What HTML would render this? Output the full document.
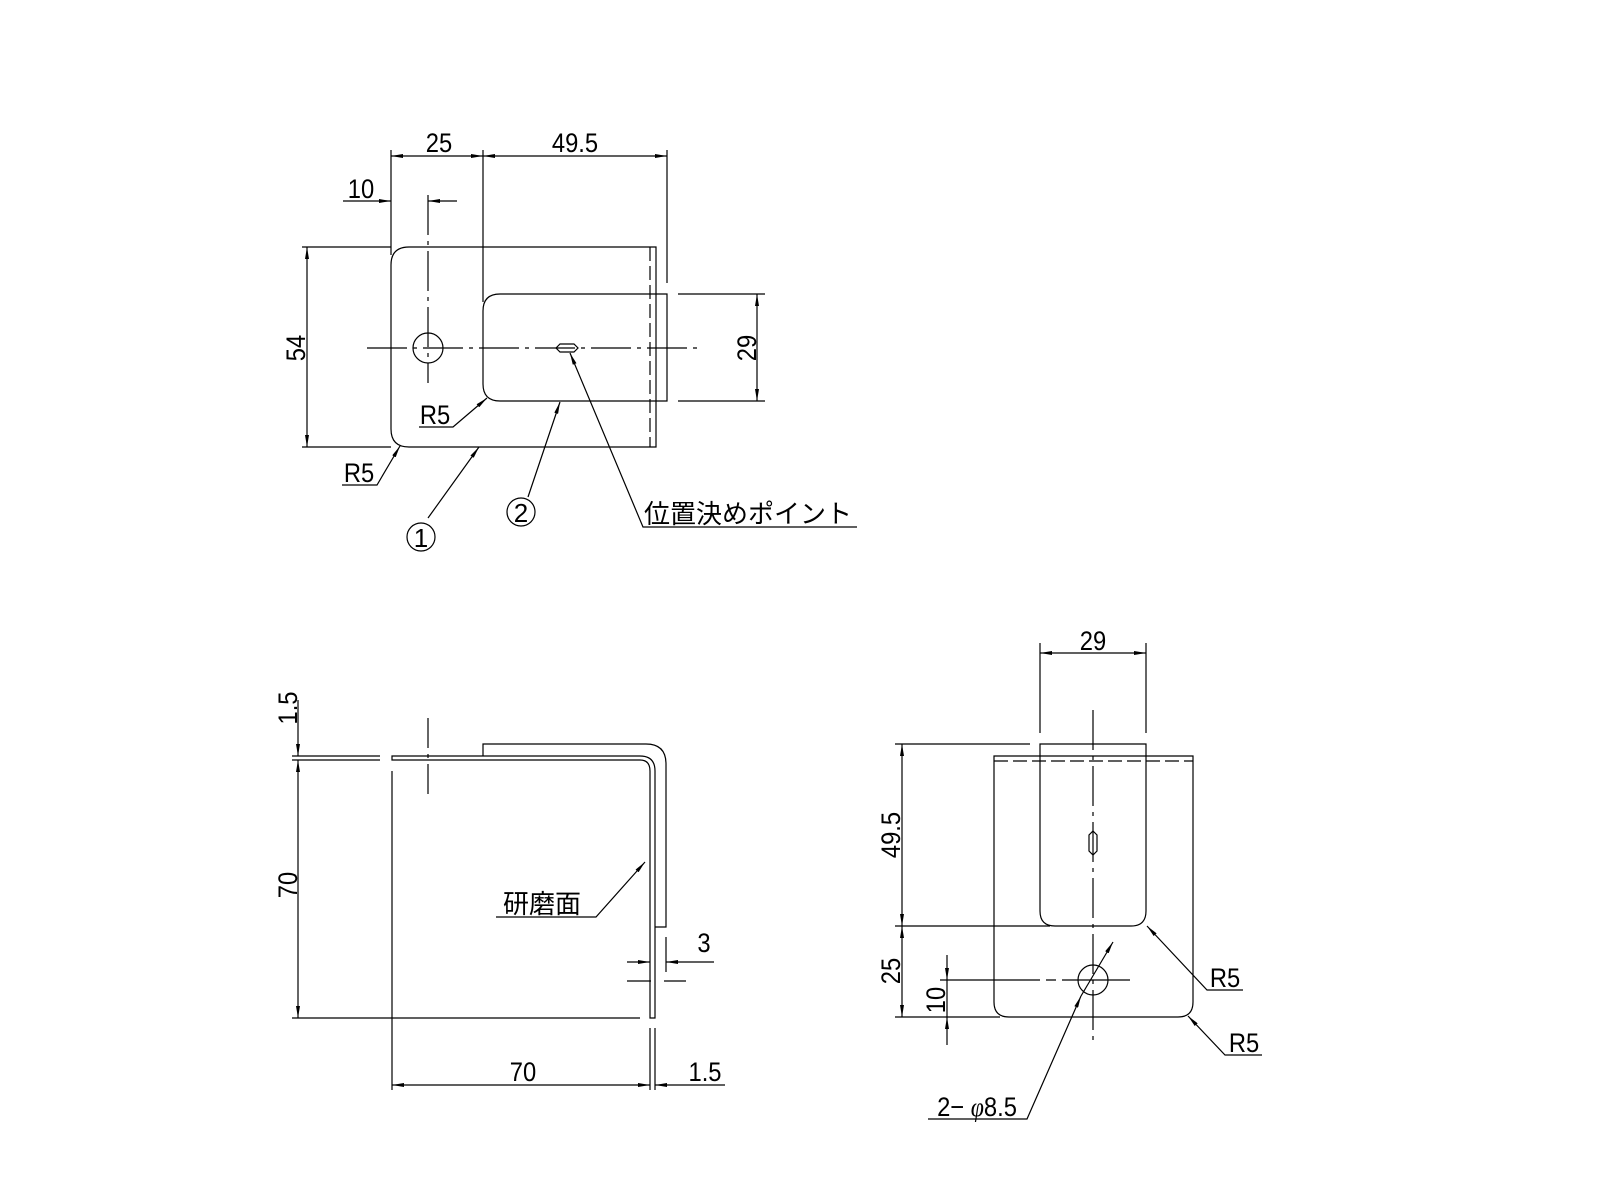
<!DOCTYPE html>
<html><head><meta charset="utf-8"><style>html,body{margin:0;padding:0;background:#fff}svg{display:block}</style></head><body>
<svg width="1600" height="1200" viewBox="0 0 1600 1200" xmlns="http://www.w3.org/2000/svg" font-family="'Liberation Sans','Noto Sans CJK JP',sans-serif" font-size="27">
<defs>
<marker id="a" viewBox="0 0 12 4" refX="12" refY="2" markerWidth="12" markerHeight="4" markerUnits="userSpaceOnUse" orient="auto-start-reverse"><path d="M0,0L12,2L0,4z" fill="#000"/></marker>
</defs>
<g fill="none" stroke="#000" stroke-width="1.2">
<!-- TOP VIEW -->
<line x1="391" y1="150" x2="391" y2="255"/>
<line x1="483" y1="150" x2="483" y2="302"/>
<line x1="667" y1="150" x2="667" y2="283"/>
<line x1="391" y1="156" x2="483" y2="156" marker-start="url(#a)" marker-end="url(#a)"/>
<line x1="483" y1="156" x2="667" y2="156" marker-start="url(#a)" marker-end="url(#a)"/>
<line x1="343" y1="201" x2="391" y2="201" marker-end="url(#a)"/>
<line x1="457" y1="201" x2="428" y2="201" marker-end="url(#a)"/>
<line x1="428" y1="195" x2="428" y2="383" stroke-dasharray="40,6,4,6"/>
<path d="M409,247H656V447H409Q391,447 391,429V265Q391,247 409,247Z"/>
<line x1="650" y1="247" x2="650" y2="447" stroke-dasharray="14,5"/>
<path d="M500,294H667V401H500Q483,401 483,384V311Q483,294 500,294Z"/>
<line x1="302" y1="247" x2="391" y2="247"/>
<line x1="302" y1="447" x2="391" y2="447"/>
<line x1="307" y1="247" x2="307" y2="447" marker-start="url(#a)" marker-end="url(#a)"/>
<line x1="678" y1="294" x2="765" y2="294"/>
<line x1="678" y1="401" x2="765" y2="401"/>
<line x1="757" y1="294" x2="757" y2="401" marker-start="url(#a)" marker-end="url(#a)"/>
<line x1="367" y1="348" x2="702" y2="348" stroke-dasharray="40,6,4,6"/>
<circle cx="428" cy="348" r="15"/>
<path d="M556,348L560,344H574L578,348L574,352H560Z"/>
<polyline points="419,427 453,427 487,398" marker-end="url(#a)"/>
<polyline points="342,485 377,485 400,446" marker-end="url(#a)"/>
<line x1="428" y1="518" x2="479" y2="447" marker-end="url(#a)"/>
<line x1="528" y1="497" x2="560" y2="402" marker-end="url(#a)"/>
<polyline points="857,527 643,527 570,353" marker-end="url(#a)"/>
<circle cx="421" cy="537" r="14"/>
<circle cx="521" cy="512" r="14"/>
<!-- SIDE VIEW -->
<path d="M292,756H380M292,760H380"/>
<path d="M392,756H640Q655,756 655,771V1018H650V771Q650,760 640,760H392Z"/>
<path d="M483,756V744H646Q666,744 666,764V927H655"/>
<line x1="392" y1="771" x2="392" y2="1090"/>
<line x1="428" y1="718" x2="428" y2="795" stroke-dasharray="30,6,4,6"/>
<line x1="298" y1="700" x2="298" y2="756" marker-end="url(#a)"/>
<line x1="298" y1="760" x2="298" y2="1018" marker-start="url(#a)" marker-end="url(#a)"/>
<line x1="292" y1="1018" x2="640" y2="1018"/>
<polyline points="496,917 596,917 645,862" marker-end="url(#a)"/>
<line x1="666" y1="937" x2="666" y2="972"/>
<line x1="627" y1="962" x2="650" y2="962" marker-end="url(#a)"/>
<line x1="714" y1="962" x2="666" y2="962" marker-end="url(#a)"/>
<path d="M627,981H651M664,981H686"/>
<line x1="650" y1="1028" x2="650" y2="1090"/>
<line x1="655" y1="1028" x2="655" y2="1090"/>
<line x1="392" y1="1085" x2="650" y2="1085" marker-start="url(#a)" marker-end="url(#a)"/>
<line x1="725" y1="1085" x2="655" y2="1085" marker-end="url(#a)"/>
<!-- RIGHT VIEW -->
<line x1="1040" y1="643" x2="1040" y2="733"/>
<line x1="1146" y1="643" x2="1146" y2="733"/>
<line x1="1040" y1="653" x2="1146" y2="653" marker-start="url(#a)" marker-end="url(#a)"/>
<path d="M994,756H1193V1002Q1193,1017 1178,1017H1009Q994,1017 994,1002Z"/>
<path d="M1040,756V744H1146V911Q1146,926 1131,926H1055Q1040,926 1040,911V756"/>
<line x1="994" y1="761" x2="1193" y2="761" stroke-dasharray="14,5"/>
<line x1="1093" y1="710" x2="1093" y2="1045" stroke-dasharray="40,6,4,6"/>
<path d="M1093,831L1097,835V851L1093,855L1089,851V835Z"/>
<circle cx="1093" cy="980" r="15"/>
<line x1="940" y1="980" x2="1130" y2="980" stroke-dasharray="100,6,10,6"/>
<line x1="895" y1="744" x2="1030" y2="744"/>
<line x1="895" y1="926" x2="1050" y2="926"/>
<line x1="895" y1="1017" x2="1000" y2="1017"/>
<line x1="902" y1="744" x2="902" y2="926" marker-start="url(#a)" marker-end="url(#a)"/>
<line x1="902" y1="926" x2="902" y2="1017" marker-start="url(#a)" marker-end="url(#a)"/>
<line x1="947" y1="955" x2="947" y2="980" marker-end="url(#a)"/>
<line x1="947" y1="1045" x2="947" y2="1017" marker-end="url(#a)"/>
<line x1="947" y1="980" x2="947" y2="1017"/>
<polyline points="1243,990 1207,990 1147,926" marker-end="url(#a)"/>
<polyline points="1262,1055 1225,1055 1188,1016" marker-end="url(#a)"/>
<polyline points="928,1119 1027,1119 1081,996" marker-end="url(#a)"/>
<line x1="1081" y1="996" x2="1113" y2="942" marker-end="url(#a)"/>
</g>
<g fill="#000" stroke="none">
<text transform="translate(439,152) scale(0.88,1)" text-anchor="middle">25</text>
<text transform="translate(575,152) scale(0.88,1)" text-anchor="middle">49.5</text>
<text transform="translate(361,198) scale(0.88,1)" text-anchor="middle">10</text>
<text transform="translate(305,348) rotate(-90) scale(0.88,1)" text-anchor="middle">54</text>
<text transform="translate(756,348) rotate(-90) scale(0.88,1)" text-anchor="middle">29</text>
<text transform="translate(435,424) scale(0.88,1)" text-anchor="middle">R5</text>
<text transform="translate(359,482) scale(0.88,1)" text-anchor="middle">R5</text>
<text x="421" y="547" text-anchor="middle" font-size="26">1</text>
<text x="521" y="522" text-anchor="middle" font-size="26">2</text>
<text x="748" y="523" text-anchor="middle" font-size="26">位置決めポイント</text>
<text transform="translate(297,708) rotate(-90) scale(0.88,1)" text-anchor="middle">1.5</text>
<text transform="translate(297,885) rotate(-90) scale(0.88,1)" text-anchor="middle">70</text>
<text x="542" y="913" text-anchor="middle" font-size="26">研磨面</text>
<text transform="translate(704,952) scale(0.88,1)" text-anchor="middle">3</text>
<text transform="translate(523,1081) scale(0.88,1)" text-anchor="middle">70</text>
<text transform="translate(705,1081) scale(0.88,1)" text-anchor="middle">1.5</text>
<text transform="translate(1093,650) scale(0.88,1)" text-anchor="middle">29</text>
<text transform="translate(900,835) rotate(-90) scale(0.88,1)" text-anchor="middle">49.5</text>
<text transform="translate(900,971) rotate(-90) scale(0.88,1)" text-anchor="middle">25</text>
<text transform="translate(945,1000) rotate(-90) scale(0.88,1)" text-anchor="middle">10</text>
<text transform="translate(1225,987) scale(0.88,1)" text-anchor="middle">R5</text>
<text transform="translate(1244,1052) scale(0.88,1)" text-anchor="middle">R5</text>
<text transform="translate(977,1116) scale(0.88,1)" text-anchor="middle">2− <tspan font-family="'Liberation Serif',serif" font-style="italic">φ</tspan>8.5</text>
</g>
</svg>
</body></html>
